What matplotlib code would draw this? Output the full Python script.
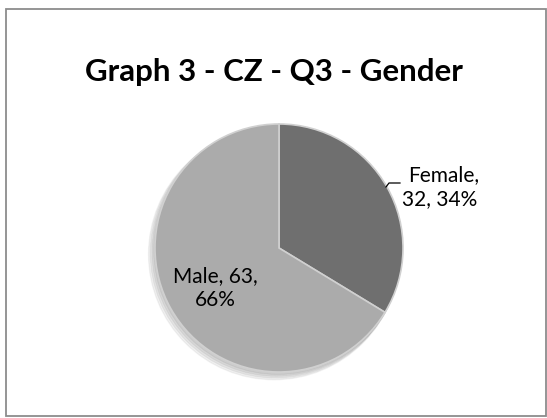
import matplotlib

matplotlib.use("Agg")
import matplotlib.pyplot as plt
from matplotlib.patches import Circle, Rectangle

# data
labels = ["Female", "Male"]
counts = [32, 63]
pct = [34, 66]
colors = ["#6f6f6f", "#ababab"]

W, H = 547, 418
plt.rcParams.update({"font.family": ["Lato", "DejaVu Sans"]})

fig = plt.figure(figsize=(W / 100, H / 100), dpi=100)
fig.patch.set_facecolor("white")

# outer chart border
fig.add_artist(Rectangle((6 / W, 1 - 416 / H), 540 / W, 407 / H, transform=fig.transFigure,
                         fill=False, edgecolor="#8c8c8c", linewidth=1.3))

fig.text(0.5, 1 - 72 / H, "Graph 3 - CZ - Q3 - Gender", ha="center", va="center",
         fontsize=22.5, fontweight="bold", color="black")

# pie axes (centre ~ (279, 248) px, radius ~124 px)
cx, cy, r = 279, 248, 124
ax = fig.add_axes([(cx - r) / W, (H - cy - r) / H, 2 * r / W, 2 * r / H])
ax.axis("off")

# soft shadow
for i in range(4):
    ax.add_patch(Circle((-0.01 - 0.01 * i, -0.02 - 0.01 * i), 1.0 + 0.004 * i,
                        color="black", alpha=0.05, zorder=0, clip_on=False))

wedges, _ = ax.pie(counts, colors=colors, startangle=90, counterclock=False, radius=1.0,
                   wedgeprops=dict(edgecolor="#d0d0d0", linewidth=1.2))
for w in wedges:
    w.set_zorder(2)
    w.set_clip_on(False)
ax.set_xlim(-1, 1)
ax.set_ylim(-1, 1)
ax.set_aspect("equal")

# labels
fs = 15
fig.text(444 / W, 1 - 175 / H, f"{labels[0]},", ha="center", va="center", fontsize=fs)
fig.text(440 / W, 1 - 199 / H, f"{counts[0]}, {pct[0]}%", ha="center", va="center", fontsize=fs)
fig.text(215 / W, 1 - 276 / H, f"{labels[1]}, {counts[1]},", ha="center", va="center", fontsize=fs)
fig.text(215 / W, 1 - 300 / H, f"{pct[1]}%", ha="center", va="center", fontsize=fs)

# leader line for Female label
fig.add_artist(plt.Line2D([386 / W, 389 / W, 400 / W], [1 - 187 / H, 1 - 183 / H, 1 - 183 / H],
                          transform=fig.transFigure, color="black", linewidth=0.9))

fig.savefig("out.png", dpi=100, facecolor="white")
